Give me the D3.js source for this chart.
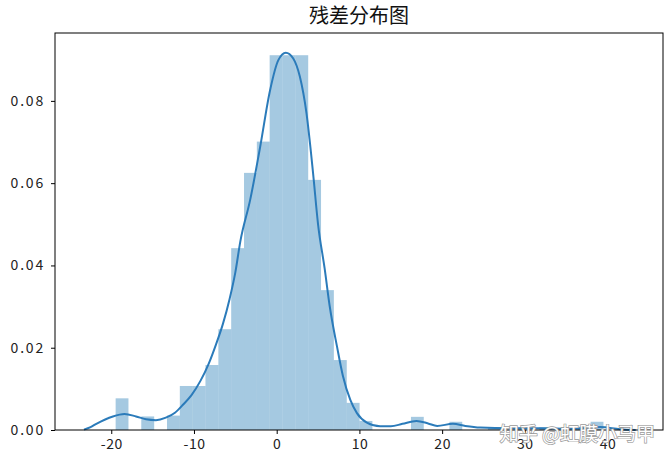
<!DOCTYPE html>
<html>
<head>
<meta charset="utf-8">
<script src="https://cdn.jsdelivr.net/npm/d3@7"></script>
<style>
  html, body { margin: 0; padding: 0; background: #fff; }
  svg { display: block; }
</style>
</head>
<body>
<svg id="chart" width="671" height="464"></svg>
<script>
// ---- data ----
const title = "残差分布图";
const watermark = "知乎 @虹膜小马甲";
const binEdges = [-19.47, -17.92, -16.37, -14.81, -13.26, -11.71, -10.16, -8.61, -7.05, -5.50,
  -3.95, -2.40, -0.85, 0.71, 2.26, 3.81, 5.36, 6.91, 8.47, 10.02,
  11.57, 13.12, 14.67, 16.23, 17.78, 19.33, 20.88, 22.43, 23.99, 25.54,
  27.09, 28.64, 30.19, 31.75, 33.30, 34.85, 36.40, 37.95, 39.50];
const binDensity = [0.0077, 0, 0.0033, 0, 0.0035, 0.0107, 0.0107, 0.0158, 0.0245, 0.0442,
  0.0625, 0.0701, 0.0911, 0.0911, 0.0911, 0.0608, 0.0340, 0.0170, 0.0066, 0.0022,
  0, 0, 0, 0.0032, 0, 0, 0.0020, 0, 0, 0.0007,
  0, 0.0006, 0, 0.0007, 0, 0, 0.0008, 0.0020];
const kdeX = [-23.3, -22.5, -21.8, -20.8, -19.8, -18.4, -17.0, -15.8, -14.6, -13.4,
  -12.3, -11.3, -10.3, -9.2, -8.2, -7.3, -6.5, -5.7, -5.0, -4.4,
  -3.2, -2.0, -0.8, 0.2, 1.1, 2.0, 2.8, 3.6, 4.4, 5.0,
  5.8, 6.4, 7.3, 8.0, 8.9, 9.7, 10.9, 12.5, 13.8, 15.2,
  16.9, 18.3, 19.4, 21.3, 22.8, 24.6, 28.2, 31.8, 35.5, 37.5,
  39.1, 41.5, 43.4];
const kdeY = [0.0001, 0.0007, 0.0015, 0.0025, 0.0033, 0.0039, 0.0033, 0.0026, 0.0024, 0.0030,
  0.0042, 0.0062, 0.0085, 0.0120, 0.0162, 0.0210, 0.0258, 0.0318, 0.0383, 0.0458,
  0.0560, 0.0688, 0.0826, 0.0899, 0.0917, 0.0903, 0.0859, 0.0770, 0.0624, 0.0500,
  0.0392, 0.0302, 0.0202, 0.0132, 0.0073, 0.0041, 0.0018, 0.0009, 0.0009, 0.0015,
  0.0022, 0.0016, 0.0010, 0.0015, 0.0010, 0.0006, 0.0004, 0.0004, 0.0003, 0.0005,
  0.0007, 0.0002, 0.0000];
const xTicks = [-20, -10, 0, 10, 20, 30, 40];
const yTicks = [0, 0.02, 0.04, 0.06, 0.08];

// ---- layout ----
const margin = { left: 55, right: 8, top: 33, bottom: 34 };
const W = 671, H = 464;
const svg = d3.select("#chart");
const x = d3.scaleLinear().domain([-26.8, 46.7]).range([margin.left, W - margin.right]);
const y = d3.scaleLinear().domain([0, 0.0965]).range([H - margin.bottom, margin.top]);

const tickFont = "'Noto Sans CJK SC', 'DejaVu Sans', sans-serif";

// bars
const bins = binDensity.map((d, i) => ({ x0: binEdges[i], x1: binEdges[i + 1], v: d }));
svg.append("g").selectAll("rect").data(bins.filter(b => b.v > 0)).join("rect")
  .attr("x", d => x(d.x0))
  .attr("width", d => x(d.x1) - x(d.x0))
  .attr("y", d => y(d.v))
  .attr("height", d => y(0) - y(d.v))
  .attr("fill", "#1f77b4")
  .attr("fill-opacity", 0.4);

// kde line
const kde = kdeX.map((v, i) => [v, kdeY[i]]);
svg.append("path").datum(kde)
  .attr("d", d3.line().x(d => x(d[0])).y(d => y(d[1])).curve(d3.curveMonotoneX))
  .attr("fill", "none")
  .attr("stroke", "#2b7bba")
  .attr("stroke-width", 2);

// axes
const xAxis = svg.append("g").attr("transform", `translate(0,${y(0)})`)
  .call(d3.axisBottom(x).tickValues(xTicks).tickSize(4).tickPadding(5).tickFormat(d => String(d)));
const yAxis = svg.append("g").attr("transform", `translate(${margin.left},0)`)
  .call(d3.axisLeft(y).tickValues(yTicks).tickSize(4).tickPadding(6).tickFormat(d3.format(".2f")));
[xAxis, yAxis].forEach(g => {
  g.select(".domain").remove();
  g.selectAll(".tick line").attr("stroke", "#000").attr("stroke-width", 1);
  g.selectAll(".tick text").attr("fill", "#222").style("font-family", tickFont).style("font-size", "14px");
});
yAxis.selectAll(".tick text").style("letter-spacing", "1.8px");
xAxis.selectAll(".tick text").style("letter-spacing", "0.5px");

// frame
svg.append("rect")
  .attr("x", margin.left).attr("y", margin.top)
  .attr("width", W - margin.right - margin.left)
  .attr("height", y(0) - margin.top)
  .attr("fill", "none").attr("stroke", "#000").attr("stroke-width", 1);

// title
svg.append("text")
  .attr("x", (margin.left + W - margin.right) / 2)
  .attr("y", 23)
  .attr("text-anchor", "middle")
  .style("font-family", tickFont)
  .style("font-size", "20px")
  .attr("fill", "#111")
  .text(title);

// watermark
svg.append("text")
  .attr("x", 655).attr("y", 441)
  .attr("text-anchor", "end")
  .style("font-family", tickFont)
  .style("font-size", "19px")
  .attr("fill", "#fff")
  .attr("stroke", "#9a9a9a")
  .attr("stroke-width", 1.4)
  .attr("paint-order", "stroke")
  .text(watermark);
</script>
</body>
</html>
